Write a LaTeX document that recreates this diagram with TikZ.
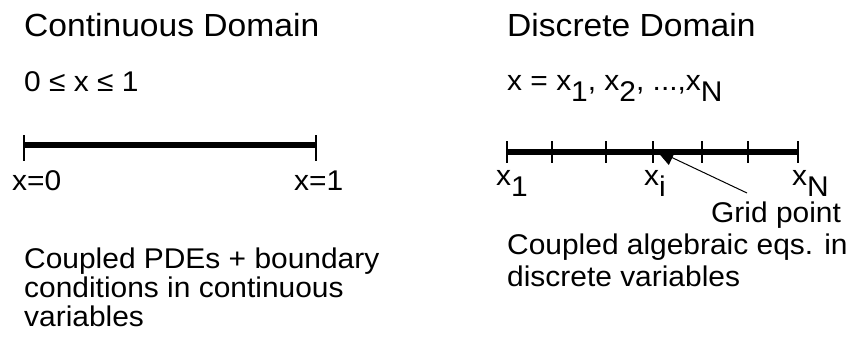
\documentclass[tikz,border=0pt]{standalone}
\usepackage{fontspec}
\setmainfont{Liberation Sans}[FakeStretch=1.05]
\usetikzlibrary{arrows.meta,calc}
\newcommand{\lsub}[1]{\raisebox{-11pt}{#1}}

\begin{document}
\begin{tikzpicture}[x=1pt, y=-1pt, line join=round,
	>={Triangle[length=18pt,width=16pt]},
	txt/.style={anchor=base west, inner sep=0pt, font=\fontsize{28.5}{33}\selectfont},
	ttl/.style={anchor=base west, inner sep=0pt, font=\fontsize{32}{38}\selectfont},
	domline/.style={line width=6pt},
	tickmark/.style={line width=1.5pt}]
	\useasboundingbox (0,0) rectangle (856,337);
	% continuous side
	\node[ttl] (ctitle) at (24,37) {Continuous Domain};
	\node[txt] (crange) at (24,92) {0 ≤ x ≤ 1};
	\coordinate (c0) at (24,145);
	\coordinate (c1) at (316,145);
	\draw[domline] (c0) -- (c1);
	\foreach \p in {c0,c1}
		\draw[tickmark] ($(\p)+(0,-10)$) -- ($(\p)+(0,16)$);
	\node[txt] (cl0) at (12,190) {x=0};
	\node[txt] (cl1) at (294,190) {x=1};
	\node[txt] (cdesc1) at (24,268) {Coupled PDEs + boundary};
	\node[txt] (cdesc2) at (24,297) {conditions in continuous};
	\node[txt] (cdesc3) at (24,326) {variables};
	% discrete side
	\node[ttl] (dtitle) at (507,37) {Discrete Domain};
	\node[txt] (dset) at (507,90) {x = x\lsub{1}, x\lsub{2}, ...,x\lsub{N}};
	\coordinate (d0) at (507,152);
	\coordinate (d1) at (798,152);
	\draw[domline] (d0) -- (d1);
	\foreach \t in {507,552,606,653,702,748,798}
		\draw[tickmark] (\t,141) -- (\t,163);
	\node[txt] (dl1) at (496,185) {x\lsub{1}};
	\node[txt] (dli) at (644,185) {x\lsub{i}};
	\node[txt] (dlN) at (792,185) {x\lsub{N}};
	\node[txt] (gp) at (711,222) {Grid point};
	\coordinate (gpfoot) at (747,193);
	\coordinate (gptip) at (656,150);
	\draw[line width=1pt, ->] (gpfoot) -- (gptip);
	\node[txt] (ddesc1) at (507,254) {Coupled algebraic eqs. in};
	\node[txt] (ddesc2) at (507,286) {discrete variables};
\end{tikzpicture}
\end{document}
